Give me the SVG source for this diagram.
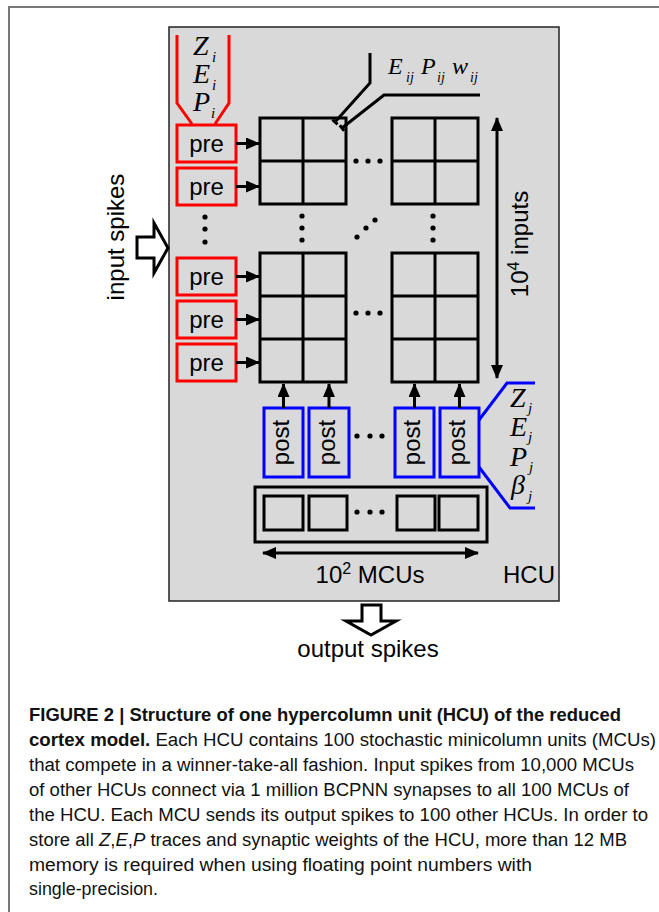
<svg xmlns="http://www.w3.org/2000/svg" width="659" height="912" viewBox="0 0 659 912">
<style>
.frame{stroke:#777;stroke-width:2;fill:none}
.hcu{fill:#d9d9d9;stroke:#222;stroke-width:1.5}
.grid{fill:none;stroke:#000;stroke-width:3}
.pre{fill:none;stroke:#f00;stroke-width:3}
.post{fill:none;stroke:#00f;stroke-width:3}
.red{fill:none;stroke:#f00;stroke-width:3}
.blue{fill:none;stroke:#00f;stroke-width:3}
.lead{fill:none;stroke:#000;stroke-width:3}
.arr{stroke:#000;stroke-width:3;fill:none}
.hollow{fill:#fff;stroke:#000;stroke-width:3;stroke-linejoin:miter}
.sans{font-family:"Liberation Sans",Arial,sans-serif;font-size:24px;fill:#000}
.serif{font-family:"Liberation Serif","Times New Roman",serif;font-style:italic;fill:#000}
.cap{font-family:"Liberation Sans",Arial,sans-serif;font-size:18px;fill:#111}
.dot{fill:#000}
</style>
<defs>
<marker id="ah" markerWidth="14" markerHeight="12" refX="13" refY="6" orient="auto" markerUnits="userSpaceOnUse">
<path d="M0,0 L14,6 L0,12 Z" fill="#000"/>
</marker>
<marker id="ahs" markerWidth="14" markerHeight="12" refX="1" refY="6" orient="auto" markerUnits="userSpaceOnUse">
<path d="M14,0 L0,6 L14,12 Z" fill="#000"/>
</marker>
</defs>
<rect width="659" height="912" fill="#fff"/>
<path class="frame" d="M9,912 L9,7 L659,7"/>
<g id="hcu">
<rect class="hcu" x="169" y="27" width="390" height="574"/>
<text class="sans" x="555" y="583" text-anchor="end">HCU</text>
</g>
<g id="pre-traces">
<path class="red" d="M177,35 L177,103 L192,124 M229,35 L229,103 L215,124"/>
<text class="serif" font-size="28" x="193" y="55">Z</text><text class="serif" font-size="15" x="212" y="62">i</text>
<text class="serif" font-size="28" x="193" y="83">E</text><text class="serif" font-size="15" x="212" y="90">i</text>
<text class="serif" font-size="28" x="193" y="111">P</text><text class="serif" font-size="15" x="211" y="118">i</text>
</g>
<g id="pre1"><rect class="pre" x="177" y="125" width="59" height="37"/><text class="sans" x="206.5" y="151.5" text-anchor="middle">pre</text></g>
<g id="pre2"><rect class="pre" x="177" y="168" width="59" height="37"/><text class="sans" x="206.5" y="194.5" text-anchor="middle">pre</text></g>
<g id="pre3"><rect class="pre" x="177" y="258" width="59" height="37"/><text class="sans" x="206.5" y="284.5" text-anchor="middle">pre</text></g>
<g id="pre4"><rect class="pre" x="177" y="301" width="59" height="37"/><text class="sans" x="206.5" y="327.5" text-anchor="middle">pre</text></g>
<g id="pre5"><rect class="pre" x="177" y="344" width="59" height="37"/><text class="sans" x="206.5" y="370.5" text-anchor="middle">pre</text></g>
<g id="pre-dots"><circle class="dot" cx="205" cy="217" r="2.6"/><circle class="dot" cx="205" cy="229" r="2.6"/><circle class="dot" cx="205" cy="242" r="2.6"/></g>
<g id="grid-tl"><rect class="grid" x="260" y="118" width="86" height="86"/><path class="grid" d="M303,118 V204 M260,161 H346"/></g>
<g id="grid-bl"><rect class="grid" x="260" y="253" width="86" height="129"/><path class="grid" d="M303,253 V382 M260,296 H346 M260,339 H346"/></g>
<g id="grid-tr"><rect class="grid" x="392" y="118" width="86" height="86"/><path class="grid" d="M435,118 V204 M392,161 H478"/></g>
<g id="grid-br"><rect class="grid" x="392" y="253" width="86" height="129"/><path class="grid" d="M435,253 V382 M392,296 H478 M392,339 H478"/></g>
<g id="grid-dots">
<circle class="dot" cx="356" cy="161" r="2.6"/><circle class="dot" cx="368" cy="161" r="2.6"/><circle class="dot" cx="380" cy="161" r="2.6"/>
<circle class="dot" cx="356" cy="313" r="2.6"/><circle class="dot" cx="368" cy="313" r="2.6"/><circle class="dot" cx="380" cy="313" r="2.6"/>
<circle class="dot" cx="302" cy="216" r="2.6"/><circle class="dot" cx="302" cy="228" r="2.6"/><circle class="dot" cx="302" cy="240" r="2.6"/>
<circle class="dot" cx="433" cy="216" r="2.6"/><circle class="dot" cx="433" cy="228" r="2.6"/><circle class="dot" cx="433" cy="240" r="2.6"/>
<circle class="dot" cx="357" cy="237" r="2.6"/><circle class="dot" cx="366" cy="228" r="2.6"/><circle class="dot" cx="375" cy="220" r="2.6"/>
</g>
<g id="synapse-label">
<path class="lead" d="M370,53 L370,83 L335,122 M480,95 L384,95 L342,128"/>
<path class="lead" stroke-width="2" d="M332.4,119.7 L337.6,124.3 M339.8,125.2 L344.2,130.8"/>
<text class="serif" font-size="24" x="388" y="74">E</text><text class="serif" font-size="14" x="406" y="82">ij</text>
<text class="serif" font-size="24" x="421" y="74">P</text><text class="serif" font-size="14" x="437" y="82">ij</text>
<text class="serif" font-size="24" x="452" y="74">w</text><text class="serif" font-size="14" x="470" y="82">ij</text>
</g>
<g id="inputs-range">
<text class="sans" transform="translate(528,244) rotate(-90)" text-anchor="middle">10<tspan font-size="16" dy="-9">4</tspan><tspan dy="9"> inputs</tspan></text>
</g>
<g id="post1"><rect class="post" x="264" y="408" width="39" height="69"/><text class="sans" transform="translate(289,442.5) rotate(-90)" text-anchor="middle">post</text></g>
<g id="post2"><rect class="post" x="309" y="408" width="40" height="69"/><text class="sans" transform="translate(334.5,442.5) rotate(-90)" text-anchor="middle">post</text></g>
<g id="post3"><rect class="post" x="395" y="408" width="39" height="69"/><text class="sans" transform="translate(420,442.5) rotate(-90)" text-anchor="middle">post</text></g>
<g id="post4"><rect class="post" x="440" y="408" width="39" height="69"/><text class="sans" transform="translate(465,442.5) rotate(-90)" text-anchor="middle">post</text></g>
<g id="post-dots"><circle class="dot" cx="357" cy="436" r="2.6"/><circle class="dot" cx="370" cy="436" r="2.6"/><circle class="dot" cx="382" cy="436" r="2.6"/></g>
<g id="post-traces">
<path class="blue" d="M479,420 L507,383 L535,383 M479,467 L510,508 L535,508"/>
<text class="serif" font-size="28" x="510" y="407">Z</text><text class="serif" font-size="15" x="528" y="413">j</text>
<text class="serif" font-size="28" x="510" y="436">E</text><text class="serif" font-size="15" x="528" y="442">j</text>
<text class="serif" font-size="28" x="510" y="466">P</text><text class="serif" font-size="15" x="529" y="472">j</text>
<text class="serif" font-size="28" font-style="normal" x="511" y="494">β</text><text class="serif" font-size="15" x="528" y="501">j</text>
</g>
<g id="mcus">
<rect class="grid" x="255" y="487" width="232" height="55"/>
<rect class="grid" x="264" y="496" width="39" height="34"/>
<rect class="grid" x="309" y="496" width="38" height="34"/>
<rect class="grid" x="397" y="496" width="38" height="34"/>
<rect class="grid" x="439" y="496" width="39" height="34"/>
<circle class="dot" cx="357" cy="512" r="2.6"/><circle class="dot" cx="370" cy="512" r="2.6"/><circle class="dot" cx="382" cy="512" r="2.6"/>
<text class="sans" x="370" y="583" text-anchor="middle">10<tspan font-size="16" dy="-9">2</tspan><tspan dy="9"> MCUs</tspan></text>
</g>
<g id="input-spikes">
<path class="hollow" d="M137,237 L154,237 L154,223 L168,248 L154,273 L154,258 L137,258 Z"/>
<text class="sans" transform="translate(124,237) rotate(-90)" text-anchor="middle">input spikes</text>
</g>
<g id="output-spikes">
<path class="hollow" d="M362,605 L381,605 L381,621 L396,621 L371,635 L346,621 L362,621 Z"/>
<text class="sans" font-size="25" x="368" y="657" text-anchor="middle">output spikes</text>
</g>
<g id="connectors">
<path class="arr" marker-end="url(#ah)" d="M236,143.5 H259"/>
<path class="arr" marker-end="url(#ah)" d="M236,186.5 H259"/>
<path class="arr" marker-end="url(#ah)" d="M236,276.5 H259"/>
<path class="arr" marker-end="url(#ah)" d="M236,319.5 H259"/>
<path class="arr" marker-end="url(#ah)" d="M236,362.5 H259"/>
<path class="arr" marker-end="url(#ah)" d="M283.5,408 V384"/>
<path class="arr" marker-end="url(#ah)" d="M329,408 V384"/>
<path class="arr" marker-end="url(#ah)" d="M414.5,408 V384"/>
<path class="arr" marker-end="url(#ah)" d="M459.5,408 V384"/>
<path class="arr" stroke-width="2.5" marker-start="url(#ahs)" marker-end="url(#ah)" d="M497,118 V378"/>
<path class="arr" stroke-width="2.5" marker-start="url(#ahs)" marker-end="url(#ah)" d="M263,553 H478"/>
</g>
<g id="caption">
<text class="cap" x="29" y="721" textLength="592" lengthAdjust="spacingAndGlyphs" font-weight="bold">FIGURE 2 | Structure of one hypercolumn unit (HCU) of the reduced</text>
<text class="cap" x="29" y="746" textLength="627" lengthAdjust="spacingAndGlyphs"><tspan font-weight="bold">cortex model.</tspan> Each HCU contains 100 stochastic minicolumn units (MCUs)</text>
<text class="cap" x="29" y="771" textLength="605" lengthAdjust="spacingAndGlyphs">that compete in a winner-take-all fashion. Input spikes from 10,000 MCUs</text>
<text class="cap" x="29" y="796" textLength="600" lengthAdjust="spacingAndGlyphs">of other HCUs connect via 1 million BCPNN synapses to all 100 MCUs of</text>
<text class="cap" x="29" y="821" textLength="619" lengthAdjust="spacingAndGlyphs">the HCU. Each MCU sends its output spikes to 100 other HCUs. In order to</text>
<text class="cap" x="29" y="846" textLength="598" lengthAdjust="spacingAndGlyphs">store all <tspan font-style="italic">Z</tspan>,<tspan font-style="italic">E</tspan>,<tspan font-style="italic">P</tspan> traces and synaptic weights of the HCU, more than 12 MB</text>
<text class="cap" x="29" y="871" textLength="503" lengthAdjust="spacingAndGlyphs">memory is required when using floating point numbers with</text>
<text class="cap" x="29" y="895" textLength="129" lengthAdjust="spacingAndGlyphs">single-precision.</text>
</g>
</svg>
